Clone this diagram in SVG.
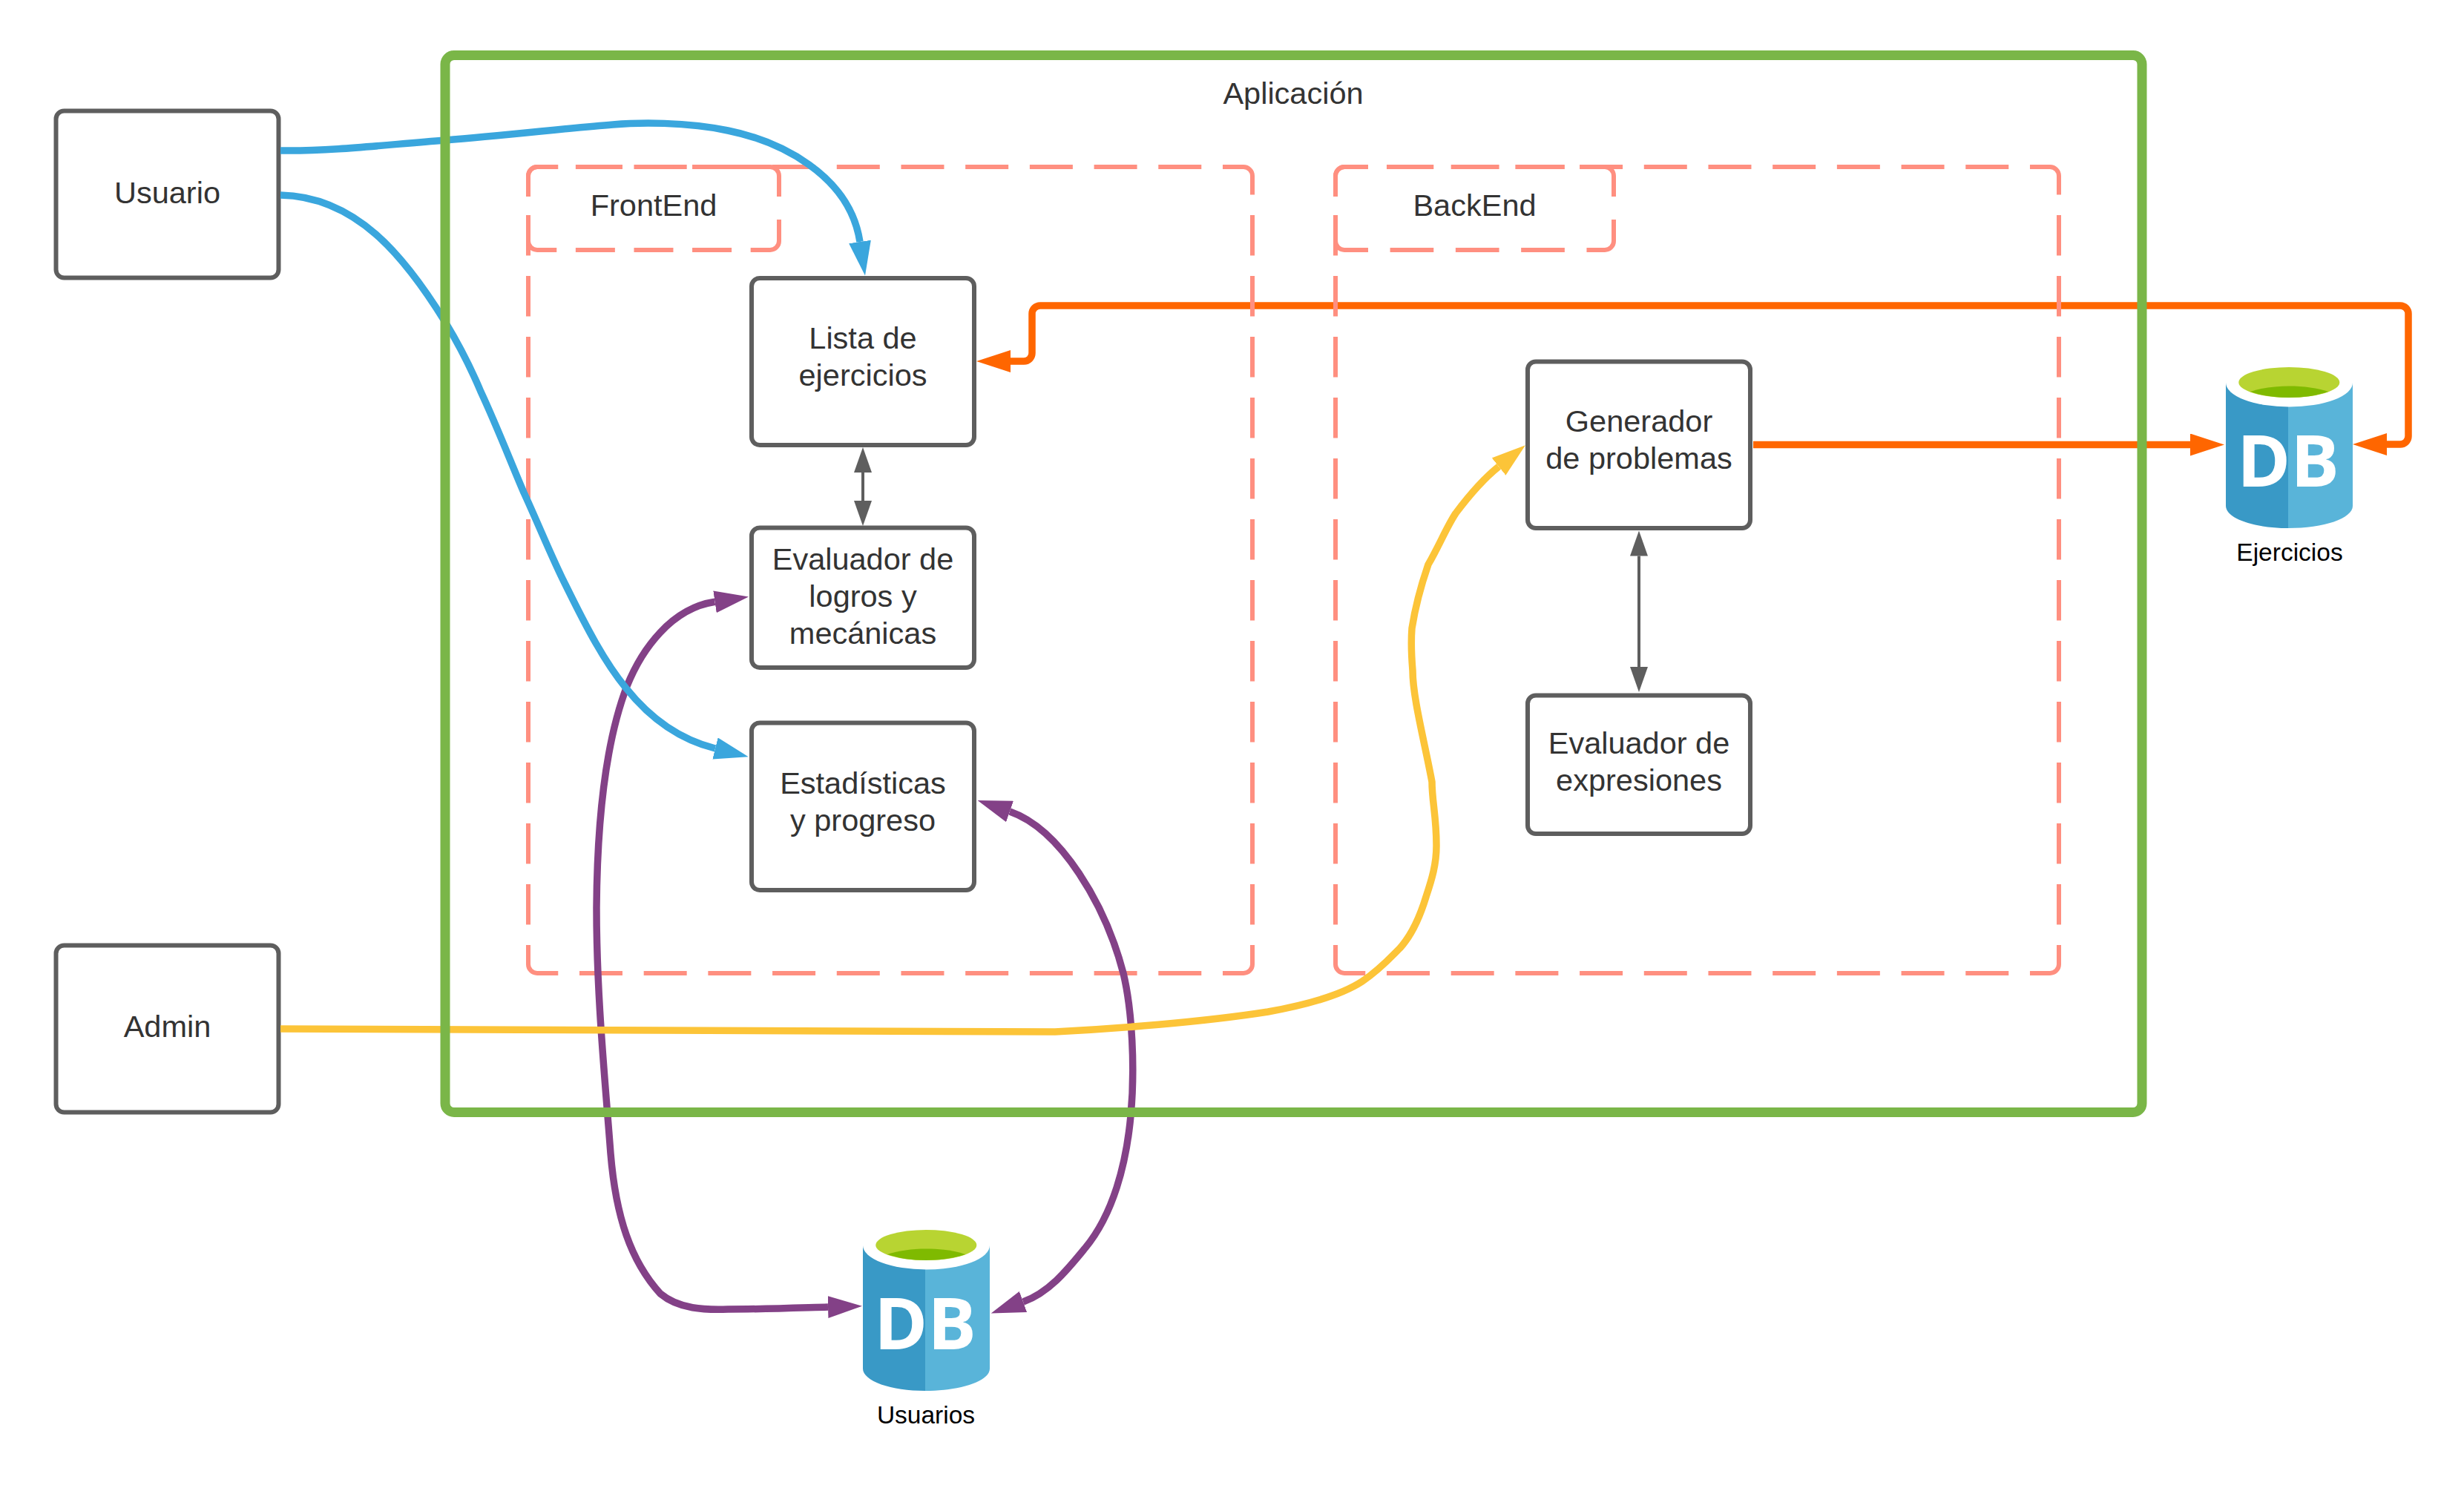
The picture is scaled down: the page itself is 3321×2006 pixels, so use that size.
<svg xmlns="http://www.w3.org/2000/svg" xmlns:xlink="http://www.w3.org/1999/xlink" width="3321" height="2006" viewBox="0 0 3321 2006">
<style>
text{font-family:"Liberation Sans",Arial,sans-serif;text-anchor:middle}
.t{font-size:41.5px;fill:#333333}
.dblabel{font-size:33.5px;fill:#000000}
.dbmark{font-family:"Open Sans","Noto Sans",sans-serif;font-weight:700;font-size:96px;fill:#ffffff;text-anchor:start}
.box{fill:#ffffff;stroke:#5e5e5e;stroke-width:6}
.zone{fill:none;stroke:#ff8f80;stroke-width:6}
.h{stroke-dasharray:58 28.7;stroke-dashoffset:11}
.v{stroke-dasharray:54.5 27.5;stroke-dashoffset:29}
.hs{stroke-dasharray:53 25.6;stroke-dashoffset:8}
.hb{stroke-dasharray:58.7 29.6;stroke-dashoffset:8}
.vs{stroke-dasharray:60 31;stroke-dashoffset:32}
.c{fill:none;stroke-width:9.5}
.blue{stroke:#3aa6dd;marker-end:url(#hBlue)}
.purple{stroke:#834187;marker-start:url(#hPurple);marker-end:url(#hPurple)}
.yellow{stroke:#fcc438;marker-end:url(#hYellow)}
.orange{stroke:#ff6600}
.grey{fill:none;stroke:#5e5e5e;stroke-width:4;marker-start:url(#hGrey);marker-end:url(#hGrey)}
</style>
<defs>
<marker id="hBlue" markerUnits="userSpaceOnUse" markerWidth="46" markerHeight="30" viewBox="0 0 46 30" refX="0" refY="15" orient="auto-start-reverse"><path d="M0,0L46,15L0,30Z" fill="#3aa6dd"/></marker>
<marker id="hPurple" markerUnits="userSpaceOnUse" markerWidth="46" markerHeight="30" viewBox="0 0 46 30" refX="0" refY="15" orient="auto-start-reverse"><path d="M0,0L46,15L0,30Z" fill="#834187"/></marker>
<marker id="hYellow" markerUnits="userSpaceOnUse" markerWidth="46" markerHeight="30" viewBox="0 0 46 30" refX="0" refY="15" orient="auto-start-reverse"><path d="M0,0L46,15L0,30Z" fill="#fcc438"/></marker>
<marker id="hOrange" markerUnits="userSpaceOnUse" markerWidth="46" markerHeight="30" viewBox="0 0 46 30" refX="0" refY="15" orient="auto-start-reverse"><path d="M0,0L46,15L0,30Z" fill="#ff6600"/></marker>
<marker id="hGrey" markerUnits="userSpaceOnUse" markerWidth="34" markerHeight="24" viewBox="0 0 34 24" refX="0" refY="12" orient="auto-start-reverse"><path d="M0,0L34,12L0,24Z" fill="#5e5e5e"/></marker>
<g id="cylinder">
<path d="M3000,516V682C3000,699 3038,712 3084,712V516Z" fill="#3999c6"/>
<path d="M3084,516V712C3132,712 3171,699 3171,682V516Z" fill="#59b4d9"/>
<ellipse cx="3085.5" cy="516" rx="85.5" ry="32.5" fill="#ffffff"/>
<ellipse cx="3085.3" cy="515.5" rx="68" ry="20.5" fill="#b8d432"/>
<path d="M3033,528C3048,523 3066,520.5 3085,520.5C3105,520.5 3124,523 3138,528C3124,533 3105,536 3085,536C3065,536 3047,533 3033,528Z" fill="#7fba00"/>
</g>
</defs>

<g id="connectors-behind">
<path class="c orange" marker-start="url(#hOrange)" marker-end="url(#hOrange)" d="M1362,487H1380A11,11 0 0 0 1391,476V423A11,11 0 0 1 1402,412H3235A11,11 0 0 1 3246,423V588A11,11 0 0 1 3235,599H3217"/>
<path class="c orange" marker-end="url(#hOrange)" d="M2363,599.5H2952"/>
</g>

<g id="frontend-zone">
<path class="zone h" d="M712,237A12,12 0 0 1 724,225H1676A12,12 0 0 1 1688,237"/>
<path class="zone h" d="M712,1300A12,12 0 0 0 724,1312H1676A12,12 0 0 0 1688,1300"/>
<path class="zone v" d="M712,237V1300"/>
<path class="zone v" d="M1688,237V1300"/>
</g>
<g id="frontend-label">
<path class="zone hs" d="M712,237A12,12 0 0 1 724,225H1038A12,12 0 0 1 1050,237"/>
<path class="zone hs" d="M712,325A12,12 0 0 0 724,337H1038A12,12 0 0 0 1050,325"/>
<path class="zone vs" d="M712,237V325"/>
<path class="zone vs" d="M1050,237V325"/>
<text class="t" x="881" y="291">FrontEnd</text>
</g>
<g id="backend-zone">
<path class="zone h" d="M1800,237A12,12 0 0 1 1812,225H2763A12,12 0 0 1 2775,237"/>
<path class="zone h" d="M1800,1300A12,12 0 0 0 1812,1312H2763A12,12 0 0 0 2775,1300"/>
<path class="zone v" d="M1800,237V1300"/>
<path class="zone v" d="M2775,237V1300"/>
</g>
<g id="backend-label">
<path class="zone hb" d="M1800,237A12,12 0 0 1 1812,225H2163A12,12 0 0 1 2175,237"/>
<path class="zone hb" d="M1800,325A12,12 0 0 0 1812,337H2163A12,12 0 0 0 2175,325"/>
<path class="zone vs" d="M1800,237V325"/>
<path class="zone vs" d="M2175,237V325"/>
<text class="t" x="1987.5" y="291">BackEnd</text>
</g>

<g id="usuario"><rect class="box" x="75.5" y="149.5" width="300" height="225" rx="11"/><text class="t" x="225.5" y="274">Usuario</text></g>
<g id="admin"><rect class="box" x="75.5" y="1274.5" width="300" height="225" rx="11"/><text class="t" x="225.5" y="1398">Admin</text></g>
<g id="lista"><rect class="box" x="1013" y="375" width="300" height="225" rx="11"/><text class="t" x="1163" y="470">Lista de</text><text class="t" x="1163" y="520">ejercicios</text></g>
<g id="logros"><rect class="box" x="1013" y="711.5" width="300" height="188.5" rx="11"/><text class="t" x="1163" y="768">Evaluador de</text><text class="t" x="1163" y="818">logros y</text><text class="t" x="1163" y="868">mecánicas</text></g>
<g id="estadisticas"><rect class="box" x="1013" y="974.5" width="300" height="225.5" rx="11"/><text class="t" x="1163" y="1070">Estadísticas</text><text class="t" x="1163" y="1120">y progreso</text></g>
<g id="generador"><rect class="box" x="2059" y="487.5" width="300" height="224.5" rx="11"/><text class="t" x="2209" y="582">Generador</text><text class="t" x="2209" y="632">de problemas</text></g>
<g id="evaluador"><rect class="box" x="2059" y="937.5" width="300" height="186.5" rx="11"/><text class="t" x="2209" y="1016">Evaluador de</text><text class="t" x="2209" y="1066">expresiones</text></g>

<g id="db-ejercicios"><use href="#cylinder" xlink:href="#cylinder"/><text class="dbmark" x="3015" y="656" textLength="138" lengthAdjust="spacingAndGlyphs">DB</text><text class="dblabel" x="3086" y="756">Ejercicios</text></g>
<g id="db-usuarios"><use href="#cylinder" xlink:href="#cylinder" transform="translate(-1837,1163)"/><text class="dbmark" x="1178" y="1819" textLength="138" lengthAdjust="spacingAndGlyphs">DB</text><text class="dblabel" x="1248" y="1919">Usuarios</text></g>

<g id="connectors">
<path class="grey" d="M1163,637V675"/>
<path class="grey" d="M2209,749.5V899"/>
<path class="c purple" d="M963.5,811.3C905,820 865,875 845,925C820,990 805,1090 804,1224C804,1340 815,1450 823,1555C830,1640 850,1700 890,1744C915,1765 950,1766 981,1765C1030,1765 1080,1763 1116,1762"/>
<path class="c purple" d="M1361,1094C1430,1118 1490,1220 1514,1312C1526,1362 1530,1440 1524,1504C1518,1570 1500,1637 1463,1682C1440,1710 1415,1742 1379,1755"/>
<path class="c blue" d="M378,203C450,204 520,195 600,189C680,183 770,172 826,168C860,165 925,164 981,176C1050,190 1145,235 1159,326"/>
<path class="c blue" d="M378,263C480,265 545,345 600,434C620,467 635,497 648,528C670,575 690,627 706,664C725,705 745,755 763,790C790,845 815,893 844,928C880,973 920,998 964,1009"/>
<path class="c yellow" d="M378,1387L1422,1391C1500,1387 1620,1378 1709,1364C1770,1353 1810,1340 1836,1323C1860,1307 1875,1290 1887,1278C1905,1258 1915,1232 1922,1209C1930,1185 1936,1165 1936,1140C1936,1100 1930,1080 1930,1054C1920,1000 1904,940 1904,904C1902,880 1902,860 1903,847C1908,815 1915,790 1925,761C1940,735 1950,710 1962,692C1980,668 2000,645 2020,629"/>
</g>

<g id="aplicacion"><rect x="600" y="74.5" width="2287" height="1425" rx="12" fill="none" stroke="#7ab648" stroke-width="13"/><text class="t" x="1743" y="140">Aplicación</text></g>
</svg>
